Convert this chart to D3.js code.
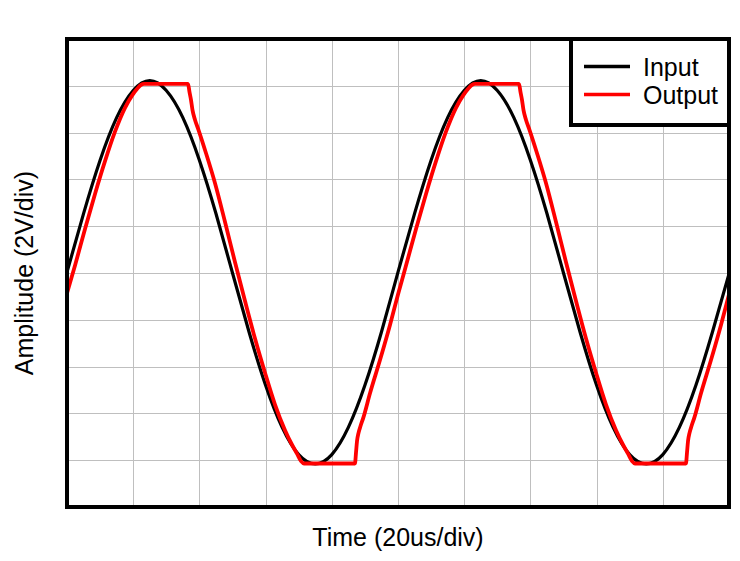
<!DOCTYPE html>
<html>
<head>
<meta charset="utf-8">
<script src="https://cdn.jsdelivr.net/npm/d3@7"></script>
<style>
  html, body { margin: 0; padding: 0; background: #ffffff; }
  svg { display: block; }
  text { font-family: Arial, "Liberation Sans", sans-serif; fill: #000; }
</style>
</head>
<body>
<script>
// ---------- data (divisions) ----------
const xTicks = [0, 1, 2, 3, 4, 5, 6, 7, 8, 9, 10];
const yTicks = [-5, -4, -3, -2, -1, 0, 1, 2, 3, 4, 5];
const xLabel = "Time (20us/div)";
const yLabel = "Amplitude (2V/div)";
const seriesNames = ["Input", "Output"];

const inputX = [0, 0.25, 0.5, 0.75, 1, 1.25, 1.5, 1.75, 2, 2.25, 2.5, 2.75, 3, 3.25, 3.5, 3.75, 4, 4.25, 4.5, 4.75,
                5, 5.25, 5.5, 5.75, 6, 6.25, 6.5, 6.75, 7, 7.25, 7.5, 7.75, 8, 8.25, 8.5, 8.75, 9, 9.25, 9.5, 9.75, 10];
const inputY = [0.02, 1.27, 2.41, 3.32, 3.90, 4.11, 3.90, 3.32, 2.41, 1.27, 0.00, -1.26, -2.40, -3.30, -3.88, -4.08, -3.88, -3.30, -2.40, -1.26,
                0.02, 1.27, 2.41, 3.32, 3.90, 4.11, 3.90, 3.32, 2.41, 1.27, 0.00, -1.26, -2.40, -3.30, -3.88, -4.08, -3.88, -3.30, -2.40, -1.26, -0.02];

const outputX = [0.000, 0.121, 0.272, 0.423, 0.574, 0.725, 0.876, 0.982, 1.057, 1.118, 1.163, 1.828, 1.850, 1.873, 1.896, 1.934, 1.986,
                 2.100, 2.236, 2.387, 2.538, 2.689, 2.840, 2.991, 3.142, 3.293, 3.399, 3.474, 3.535, 3.580, 4.350, 4.366, 4.381, 4.403,
                 4.434, 4.479, 4.577, 4.728, 4.879,
                 5.000, 5.121, 5.272, 5.423, 5.574, 5.725, 5.876, 5.982, 6.057, 6.118, 6.163, 6.828, 6.850, 6.873, 6.896, 6.934, 6.986,
                 7.100, 7.236, 7.387, 7.538, 7.689, 7.840, 7.991, 8.142, 8.293, 8.399, 8.474, 8.535, 8.580, 9.350, 9.366, 9.381, 9.403,
                 9.434, 9.479, 9.577, 9.728, 9.879, 10.000];
const outputY = [-0.43, 0.16, 0.94, 1.69, 2.39, 3.02, 3.53, 3.79, 3.93, 4.02, 4.04, 4.04, 3.87, 3.70, 3.48, 3.27, 3.06,
                 2.56, 1.92, 1.09, 0.23, -0.60, -1.40, -2.13, -2.81, -3.36, -3.67, -3.86, -4.02, -4.07, -4.07, -3.83, -3.59, -3.42,
                 -3.27, -3.08, -2.57, -1.86, -1.11,
                 -0.46, 0.16, 0.94, 1.69, 2.39, 3.02, 3.53, 3.79, 3.93, 4.02, 4.04, 4.04, 3.87, 3.70, 3.48, 3.27, 3.06,
                 2.56, 1.92, 1.09, 0.23, -0.60, -1.40, -2.13, -2.81, -3.36, -3.67, -3.86, -4.02, -4.07, -4.07, -3.83, -3.59, -3.42,
                 -3.27, -3.08, -2.57, -1.86, -1.11, -0.46];

// ---------- layout ----------
const W = 740, H = 561;
const plot = { left: 67, top: 39, right: 729, bottom: 507 };
const FS = 25;

const svg = d3.select("body").append("svg").attr("width", W).attr("height", H);

const x = d3.scaleLinear().domain([0, 10]).range([plot.left, plot.right]);
const y = d3.scaleLinear().domain([-5, 5]).range([plot.bottom, plot.top]);

svg.append("rect").attr("x", plot.left).attr("y", plot.top)
  .attr("width", plot.right - plot.left).attr("height", plot.bottom - plot.top)
  .attr("fill", "#fff");

// grid via axes
const gx = svg.append("g").attr("transform", `translate(0,${plot.bottom})`)
  .call(d3.axisBottom(x).tickValues(xTicks.slice(1, -1)).tickSize(-(plot.bottom - plot.top)).tickFormat(""));
gx.select(".domain").remove();
gx.selectAll("line").attr("stroke", "#bfbfbf").attr("stroke-width", 1).attr("shape-rendering", "crispEdges");

const gy = svg.append("g").attr("transform", `translate(${plot.left},0)`)
  .call(d3.axisLeft(y).tickValues(yTicks.slice(1, -1)).tickSize(-(plot.right - plot.left)).tickFormat(""));
gy.select(".domain").remove();
gy.selectAll("line").attr("stroke", "#bfbfbf").attr("stroke-width", 1).attr("shape-rendering", "crispEdges");

svg.append("clipPath").attr("id", "clip").append("rect")
  .attr("x", plot.left).attr("y", plot.top)
  .attr("width", plot.right - plot.left).attr("height", plot.bottom - plot.top);

const g = svg.append("g").attr("clip-path", "url(#clip)");

const inputData = inputX.map((d, i) => [d, inputY[i]]);
const outputData = outputX.map((d, i) => [d, outputY[i]]);

g.append("path").datum(inputData)
  .attr("d", d3.line().x(d => x(d[0])).y(d => y(d[1])).curve(d3.curveNatural))
  .attr("fill", "none").attr("stroke", "#000").attr("stroke-width", 3.2).attr("stroke-linejoin", "round");

g.append("path").datum(outputData)
  .attr("d", d3.line().x(d => x(d[0])).y(d => y(d[1])).curve(d3.curveMonotoneX))
  .attr("fill", "none").attr("stroke", "#ff0000").attr("stroke-width", 3.8).attr("stroke-linejoin", "round");

// border
svg.append("rect").attr("x", plot.left).attr("y", plot.top)
  .attr("width", plot.right - plot.left).attr("height", plot.bottom - plot.top)
  .attr("fill", "none").attr("stroke", "#000").attr("stroke-width", 4);

// legend
const lg = svg.append("g");
lg.append("rect").attr("x", 571).attr("y", plot.top).attr("width", plot.right - 571).attr("height", 125 - plot.top)
  .attr("fill", "#fff").attr("stroke", "#000").attr("stroke-width", 4);
const legendColors = ["#000", "#ff0000"];
seriesNames.forEach((name, i) => {
  const cy = 66.5 + i * 28;
  lg.append("line").attr("x1", 584).attr("x2", 630).attr("y1", cy).attr("y2", cy)
    .attr("stroke", legendColors[i]).attr("stroke-width", 3.5);
  lg.append("text").attr("x", 643).attr("y", cy + 9).attr("font-size", FS).text(name);
});

// axis titles
svg.append("text").attr("x", (plot.left + plot.right) / 2).attr("y", 546)
  .attr("text-anchor", "middle").attr("font-size", FS).text(xLabel);
svg.append("text").attr("transform", `translate(33,${(plot.top + plot.bottom) / 2}) rotate(-90)`)
  .attr("text-anchor", "middle").attr("font-size", FS).text(yLabel);
</script>
</body>
</html>
